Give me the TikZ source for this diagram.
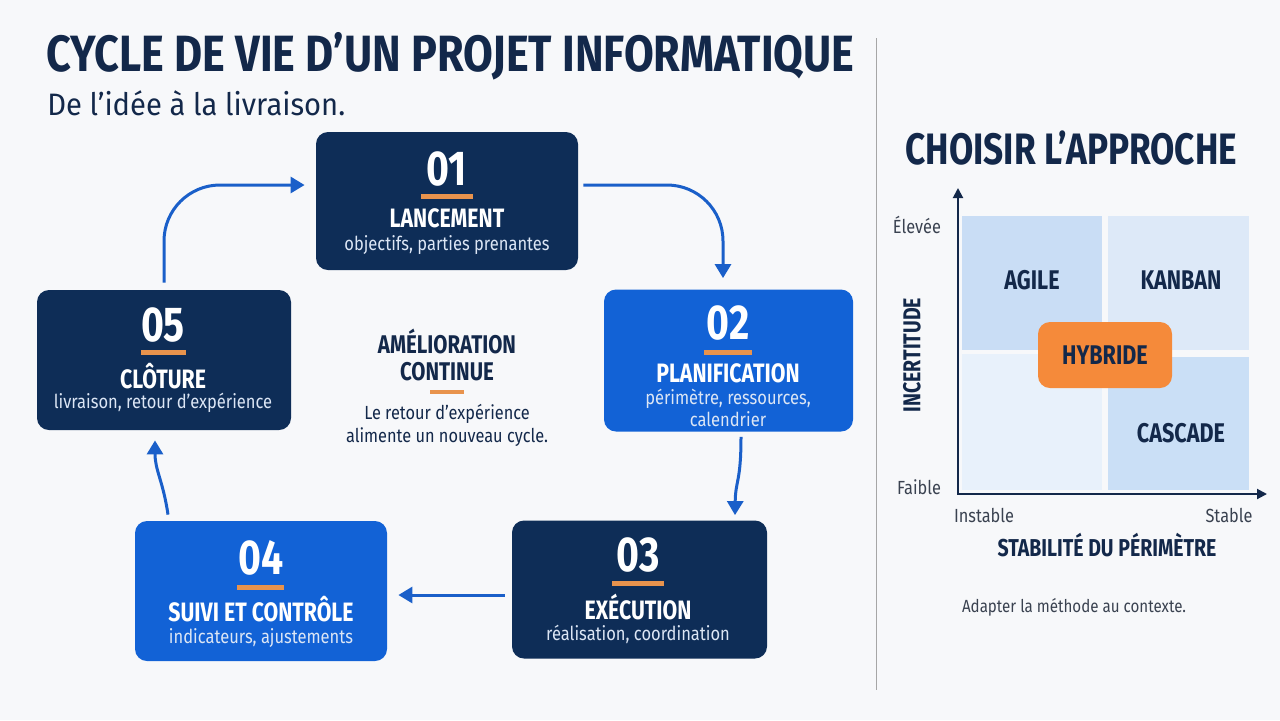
\documentclass[tikz,border=0pt]{standalone}
\usepackage{fontspec}
\setmainfont{Fira Sans}
\newfontfamily\cond{Fira Sans}[FakeStretch=0.8]
\newfontfamily\wide{Fira Sans}[FakeStretch=0.847]
\newfontfamily\narrow{Fira Sans}[FakeStretch=0.86]
\newfontfamily\lede{Fira Sans}[FakeStretch=0.94]
\usetikzlibrary{arrows.meta}
\definecolor{navy}{HTML}{0E2D57}
\definecolor{bblue}{HTML}{1262D6}
\definecolor{ink}{HTML}{13284A}
\definecolor{orng}{HTML}{E8934D}
\definecolor{arrowblue}{HTML}{1A5FC9}
\definecolor{bg}{HTML}{F7F8FA}
\definecolor{qa}{HTML}{C9DDF5}
\definecolor{qb}{HTML}{DDE9F8}
\definecolor{qc}{HTML}{E8F1FB}
\definecolor{qd}{HTML}{CADFF6}
\definecolor{hyb}{HTML}{F58A3A}
\definecolor{subt}{HTML}{DCE6F5}
\definecolor{greytxt}{HTML}{3A4250}
\tikzset{
  stepbox/.style={rounded corners=6pt, minimum width=#1, inner sep=0pt},
  navybox/.style={stepbox=127pt, fill=navy, minimum height=69pt},
  bluebox/.style={stepbox=126pt, fill=bblue, minimum height=71pt},
  num/.style={font=\cond\bfseries\fontsize{24.5}{26}\selectfont, text=white},
  ttl/.style={font=\cond\bfseries\fontsize{13.3}{16}\selectfont, text=white},
  sub/.style={font=\narrow\fontsize{9.6}{11}\selectfont, text=subt, align=center},
  uline/.style={orng, line width=2.5pt},
  arr/.style={arrowblue, line width=1.5pt, -{Triangle[length=7pt,width=8pt]}},
  axis/.style={ink, line width=1pt, -{Triangle[length=5pt,width=5pt]}},
  quad/.style={font=\cond\bfseries\fontsize{13.5}{15}\selectfont, text=ink},
  lab/.style={font=\narrow\fontsize{9.5}{11}\selectfont, text=greytxt},
  axlab/.style={font=\cond\bfseries\fontsize{12.2}{14}\selectfont, text=ink},
}
\begin{document}
\begin{tikzpicture}[x=0.5pt,y=-0.5pt]
\fill[bg] (0,0) rectangle (1280,720);
\useasboundingbox (0,0) rectangle (1280,720);

% titles
\node[anchor=west, font=\wide\bfseries\fontsize{25.5}{28}\selectfont, text=ink, inner sep=0pt] (title) at (46,56) {CYCLE DE VIE D’UN PROJET INFORMATIQUE};
\node[anchor=west, font=\lede\fontsize{15.5}{17}\selectfont, text=ink, inner sep=0pt] (subtitle) at (47,103) {De l’idée à la livraison.};

% divider
\draw[gray!70, line width=0.5pt] (876,38) -- (876,690);

% boxes
\node[navybox, minimum width=131pt] (b1) at (447,201) {};
\node[bluebox, minimum width=124.5pt] (b2) at (728.5,360.5) {};
\node[navybox, minimum width=127.5pt] (b3) at (639.5,589.5) {};
\node[bluebox, minimum width=126pt, minimum height=70pt] (b4) at (261,591) {};
\node[navybox, minimum width=127pt, minimum height=70pt] (b5) at (164,360) {};

% box 01
\node[num] (n1) at (447,169) {01};
\draw[uline] (421,196) -- (473,196);
\node[ttl] (t1) at (447,218) {LANCEMENT};
\node[sub] (s1) at (447,245) {objectifs, parties prenantes};
% box 02
\node[num] (n2) at (728,323) {02};
\draw[uline] (704,352) -- (752,352);
\node[ttl] (t2) at (728,373) {PLANIFICATION};
\node[sub] (s2) at (728,408) {périmètre, ressources,\\calendrier};
% box 03
\node[num] (n3) at (638,555) {03};
\draw[uline] (612,583) -- (664,583);
\node[ttl] (t3) at (638,607) {EXÉCUTION};
\node[sub] (s3) at (638,634) {réalisation, coordination};
% box 04
\node[num] (n4) at (261,558) {04};
\draw[uline] (237,587) -- (284,587);
\node[ttl] (t4) at (261,609) {SUIVI ET CONTRÔLE};
\node[sub] (s4) at (261,638) {indicateurs, ajustements};
% box 05
\node[num] (n5) at (163,325) {05};
\draw[uline] (141,352) -- (186,352);
\node[ttl] (t5) at (163,376) {CLÔTURE};
\node[sub] (s5) at (163,403) {livraison, retour d’expérience};

% centre
\node[font=\cond\bfseries\fontsize{12.8}{13.5}\selectfont, text=ink, align=center] (ac) at (447,355) {AMÉLIORATION\\CONTINUE};
\draw[orng, line width=2pt] (430,392) -- (464,392);
\node[font=\narrow\fontsize{9.5}{11.5}\selectfont, text=ink, align=center] (ad) at (447,425) {Le retour d’expérience\\alimente un nouveau cycle.};

% cycle arrows
\draw[arr, rounded corners=28pt] ([yshift=3.5pt]b5.north) |- ([xshift=-5.5pt,yshift=8pt]b1.west);
\draw[arr, rounded corners=28pt] ([xshift=2.5pt,yshift=8pt]b1.east) -| ([xshift=-2.75pt,yshift=5.5pt]b2.north);
\draw[arr] ([xshift=6.25pt,yshift=-2.5pt]b2.south) .. controls ([xshift=6.25pt,yshift=-25pt]b2.south) and ([xshift=48pt,yshift=20pt]b3.north) .. ([xshift=47.75pt,yshift=2.5pt]b3.north);
\draw[arr] ([xshift=-3.5pt,yshift=-2.75pt]b3.west) -- ([xshift=5.5pt,yshift=-2pt]b4.east);
\draw[arr] ([xshift=-46.5pt,yshift=3pt]b4.north) .. controls ([xshift=-49pt,yshift=20pt]b4.north) and ([xshift=-4.5pt,yshift=-20pt]b5.south) .. ([xshift=-4.5pt,yshift=-5pt]b5.south);

% right panel
\node[anchor=west, font=\cond\bfseries\fontsize{22}{24}\selectfont, text=ink, inner sep=0pt] (rt) at (905,148) {CHOISIR L’APPROCHE};

\fill[qa] (962,216) rectangle (1102,350);
\fill[qb] (1108,216) rectangle (1249,350);
\fill[qc] (962,354) rectangle (1102,490);
\fill[qd] (1108,357) rectangle (1249,490);

\coordinate (origin) at (958,494);
\coordinate (ytop) at (958,188);
\coordinate (xend) at (1267,494);
\draw[axis] (origin) -- (ytop);
\draw[axis] ([xshift=-0.5pt]origin) -- (xend);

\node[quad] (qagile) at (1032,280) {AGILE};
\node[quad] (qkanban) at (1181,280) {KANBAN};
\node[quad] (qcascade) at (1181,433) {CASCADE};
\node[quad, fill=hyb, rounded corners=6pt, minimum width=67pt, minimum height=33pt] (qhyb) at (1105,355) {HYBRIDE};

\node[lab, anchor=east] (lhigh) at (948,225) {Élevée};
\node[lab, anchor=east] (llow) at (948,487) {Faible};
\node[lab] (linst) at (984,515) {Instable};
\node[lab] (lstab) at (1229,515) {Stable};
\node[axlab, rotate=90] (yl) at (912,355) {INCERTITUDE};
\node[axlab] (xl) at (1107,545) {STABILITÉ DU PÉRIMÈTRE};
\node[font=\narrow\fontsize{8.8}{11}\selectfont, text=greytxt] (note) at (1074,607) {Adapter la méthode au contexte.};
\end{tikzpicture}
\end{document}
